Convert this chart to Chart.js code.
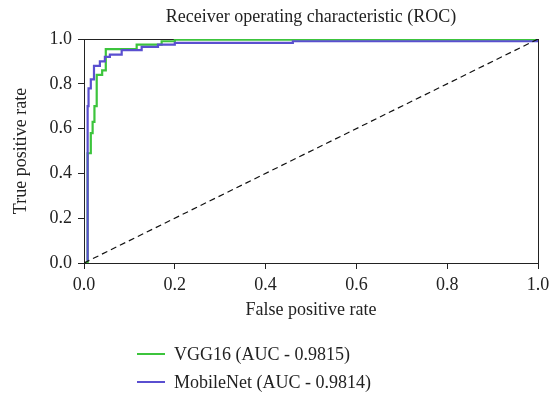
<!DOCTYPE html>
<html>
<head>
<meta charset="utf-8">
<script src="https://cdn.jsdelivr.net/npm/chart.js@4"></script>
<style>
  body { margin: 0; background: #fff; }
  #wrap { position: relative; width: 557px; height: 400px; }
  #legend { position: absolute; left: 137px; top: 340px; font-family: "Liberation Serif", serif; font-size: 18px; color: #222; }
  .item { display: flex; align-items: center; height: 28px; }
  .swatch { width: 28px; height: 0; border-top: 2px solid; margin-right: 9px; }
</style>
</head>
<body>
<div id="wrap">
  <canvas id="chart-1" width="557" height="400"></canvas>
  <div id="legend">
    <div class="item"><span class="swatch" style="border-color:#3cc43c"></span>VGG16 (AUC - 0.9815)</div>
    <div class="item"><span class="swatch" style="border-color:#5a4fd0"></span>MobileNet (AUC - 0.9814)</div>
  </div>
</div>
<script>
const vggFpr = [0, 0.008, 0.008, 0.015, 0.015, 0.019, 0.019, 0.023, 0.023, 0.028, 0.028, 0.040, 0.040, 0.048, 0.048, 0.116, 0.116, 0.171, 0.171, 0.2, 0.2, 1, 1];
const vggTpr = [0, 0, 0.49, 0.49, 0.58, 0.58, 0.63, 0.63, 0.70, 0.70, 0.84, 0.84, 0.86, 0.86, 0.955, 0.955, 0.975, 0.975, 0.99, 0.99, 0.997, 0.997, 1];
const mobFpr = [0.008, 0.008, 0.010, 0.010, 0.015, 0.015, 0.022, 0.022, 0.035, 0.035, 0.046, 0.046, 0.057, 0.057, 0.083, 0.083, 0.127, 0.127, 0.163, 0.163, 0.2, 0.2, 0.46, 0.46, 1, 1];
const mobTpr = [0.01, 0.70, 0.70, 0.78, 0.78, 0.82, 0.82, 0.88, 0.88, 0.90, 0.90, 0.92, 0.92, 0.93, 0.93, 0.95, 0.95, 0.965, 0.965, 0.975, 0.975, 0.983, 0.983, 0.99, 0.99, 1];
const chanceLine = [0, 1];
const tickValues = [0, 0.2, 0.4, 0.6, 0.8, 1.0];

const pts = (xs, ys) => xs.map((x, i) => ({ x: x, y: ys[i] }));
const tickFont = { family: "'Liberation Serif', serif", size: 18 };
const titleFont = { family: "'Liberation Serif', serif", size: 18 };
const ink = "#222";

new Chart(document.getElementById("chart-1"), {
  type: "scatter",
  data: {
    datasets: [
      {
        label: "chance",
        data: pts(chanceLine, chanceLine),
        showLine: true,
        borderColor: "#111",
        borderWidth: 1.2,
        borderDash: [6, 4],
        pointRadius: 0
      },
      {
        label: "MobileNet (AUC - 0.9814)",
        data: pts(mobFpr, mobTpr),
        showLine: true,
        borderColor: "#5a4fd0",
        borderWidth: 2.2,
        pointRadius: 0
      },
      {
        label: "VGG16 (AUC - 0.9815)",
        data: pts(vggFpr, vggTpr),
        showLine: true,
        borderColor: "#3cc43c",
        borderWidth: 2.2,
        pointRadius: 0
      }
    ]
  },
  options: {
    responsive: false,
    animation: false,
    layout: { padding: { top: 0, right: 19, left: 10, bottom: 74 } },
    plugins: { legend: { display: false }, tooltip: { enabled: false } },
    scales: {
      x: {
        type: "linear", min: 0, max: 1,
        afterBuildTicks: s => { s.ticks = tickValues.map(v => ({ value: v })); },
        afterFit: s => { s.height = 63; },
        grid: { drawOnChartArea: false, drawTicks: true, tickLength: 6, color: ink },
        border: { color: ink, width: 1 },
        ticks: { color: ink, font: tickFont, padding: 5, callback: v => v.toFixed(1) },
        title: { display: true, text: "False positive rate", color: ink, font: titleFont, padding: { top: 0, bottom: 5 } }
      },
      xTop: {
        type: "linear", position: "top", min: 0, max: 1,
        afterFit: s => { s.height = 39; },
        grid: { display: false },
        border: { color: ink, width: 1 },
        ticks: { display: false },
        title: { display: true, text: "Receiver operating characteristic (ROC)", color: ink, font: titleFont, padding: { top: 6, bottom: 5 } }
      },
      y: {
        type: "linear", min: 0, max: 1,
        afterBuildTicks: s => { s.ticks = tickValues.map(v => ({ value: v })); },
        afterFit: s => { s.width = 74; },
        grid: { drawOnChartArea: false, drawTicks: true, tickLength: 6, color: ink },
        border: { color: ink, width: 1 },
        ticks: { color: ink, font: tickFont, padding: 6, callback: v => v.toFixed(1) },
        title: { display: true, text: "True positive rate", color: ink, font: titleFont, padding: { top: 0, bottom: 2 } }
      },
      yRight: {
        type: "linear", position: "right", min: 0, max: 1,
        afterFit: s => { s.width = 0; },
        grid: { display: false },
        border: { color: ink, width: 1 },
        ticks: { display: false }
      }
    }
  }
});
</script>
</body>
</html>
